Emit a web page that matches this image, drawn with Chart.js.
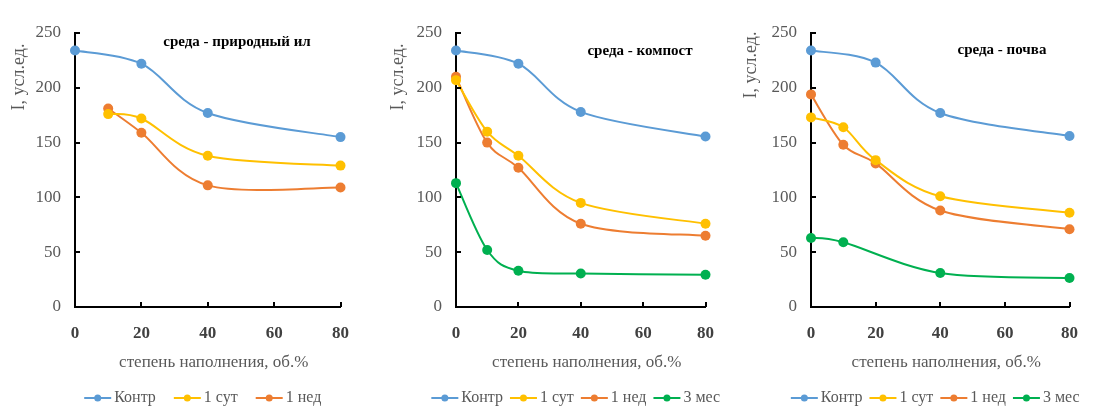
<!DOCTYPE html>
<html><head><meta charset="utf-8">
<script src="https://cdn.jsdelivr.net/npm/chart.js@4.4.1/dist/chart.umd.min.js"></script>
<style>
html,body{margin:0;padding:0;background:#fff;width:1094px;height:407px;overflow:hidden}
canvas{position:absolute;top:0}
</style></head>
<body>
<canvas id="c1" width="365" height="407" style="left:0px"></canvas>
<canvas id="c2" width="365" height="407" style="left:365px"></canvas>
<canvas id="c3" width="364" height="407" style="left:730px"></canvas>
<script>
// ---- data ----
const seriesNames = ['Контр', '1 сут', '1 нед', '3 мес'];
const panelTitles = ['среда - природный ил', 'среда - компост', 'среда - почва'];
const xAxisTitle = 'степень наполнения, об.%';
const yAxisTitle = 'I, усл.ед.';
const xTicks = [0, 20, 40, 60, 80];
const yTicks = [0, 50, 100, 150, 200, 250];

// панель 1: природный ил
const ilKontrX = [0, 20, 40, 80];      const ilKontrY = [234, 222, 177, 155];
const ilSutX   = [10, 20, 40, 80];     const ilSutY   = [176, 172, 138, 129];
const ilNedX   = [10, 20, 40, 80];     const ilNedY   = [181, 159, 111, 109];

// панель 2: компост
const kmKontrX = [0, 20, 40, 80];      const kmKontrY = [234, 222, 178, 155.5];
const kmSutX   = [0, 10, 20, 40, 80];  const kmSutY   = [207, 160, 138, 95, 76];
const kmNedX   = [0, 10, 20, 40, 80];  const kmNedY   = [210, 150, 127, 76, 65];
const kmMesX   = [0, 10, 20, 40, 80];  const kmMesY   = [113, 52, 33, 30.5, 29.5];

// панель 3: почва
const pvKontrX = [0, 20, 40, 80];      const pvKontrY = [234, 223, 177, 156];
const pvSutX   = [0, 10, 20, 40, 80];  const pvSutY   = [173, 164, 134, 101, 86];
const pvNedX   = [0, 10, 20, 40, 80];  const pvNedY   = [194, 148, 131, 88, 71];
const pvMesX   = [0, 10, 40, 80];      const pvMesY   = [63, 59, 31, 26.5];

// ---- styling ----
const colors = ['#5B9BD5', '#FFC000', '#ED7D31', '#00B050'];
const FONT = '"Liberation Serif", "Times New Roman", serif';

function ds(idx, xs, ys) {
  return {
    label: seriesNames[idx],
    data: xs.map((x, i) => ({x: x, y: ys[i]})),
    borderColor: colors[idx],
    backgroundColor: colors[idx],
    borderWidth: 2,
    pointRadius: 5,
    pointHoverRadius: 5,
    pointBorderWidth: 0,
    tension: 0.33,
    clip: false
  };
}

// Office-style smoothing: control points P_i -/+ (P_{i+1} - P_{i-1}) / 6
const smoothPlugin = {
  id: 'officeSmooth',
  beforeDatasetsDraw(chart) {
    chart.data.datasets.forEach((d, di) => {
      const meta = chart.getDatasetMeta(di);
      const pts = meta.data;
      const n = pts.length;
      for (let i = 0; i < n; i++) {
        const p = pts[i];
        const prev = pts[Math.max(0, i - 1)];
        const next = pts[Math.min(n - 1, i + 1)];
        const dx = (next.x - prev.x) / 6, dy = (next.y - prev.y) / 6;
        p.cp1x = p.x - dx; p.cp1y = p.y - dy;
        p.cp2x = p.x + dx; p.cp2y = p.y + dy;
      }
      if (meta.dataset) meta.dataset._pointsUpdated = true;
    });
  }
};

function decorPlugin(L) {
  return {
    id: 'decor',
    afterDraw(chart) {
      const ctx = chart.ctx;
      const a = chart.chartArea;
      const xs = chart.scales.x, ys = chart.scales.y;
      ctx.save();
      // inward tick marks
      ctx.strokeStyle = '#000';
      ctx.lineWidth = 2;
      yTicks.forEach(v => {
        const py = Math.round(ys.getPixelForValue(v));
        ctx.beginPath(); ctx.moveTo(a.left, py); ctx.lineTo(a.left + 5, py); ctx.stroke();
      });
      xTicks.forEach(v => {
        const px = Math.round(xs.getPixelForValue(v));
        ctx.beginPath(); ctx.moveTo(px, a.bottom); ctx.lineTo(px, a.bottom - 5); ctx.stroke();
      });
      // panel title
      ctx.fillStyle = '#000';
      ctx.font = 'bold 15px ' + FONT;
      ctx.textAlign = 'center';
      ctx.textBaseline = 'middle';
      ctx.fillText(L.title, L.titleX, L.titleY);
      // x axis title
      ctx.fillStyle = '#595959';
      ctx.font = '17px ' + FONT;
      ctx.fillText(xAxisTitle, (a.left + a.right) / 2 + 6, 363);
      // y axis title
      ctx.save();
      ctx.translate(a.left - L.yTitleDX, L.yTitleY);
      ctx.rotate(-Math.PI / 2);
      ctx.font = '18px ' + FONT;
      ctx.fillText(yAxisTitle, 0, 0);
      ctx.restore();
      // legend
      ctx.font = '16px ' + FONT;
      const items = chart.data.datasets.map(d => ({label: d.label, color: d.borderColor}));
      const lineLen = 27, textGap = 3;
      const widths = items.map(it => lineLen + textGap + ctx.measureText(it.label).width);
      const total = widths.reduce((s, w) => s + w, 0) + L.legendGap * (items.length - 1);
      let x = (a.left + a.right) / 2 - 5 - total / 2;
      const ly = 398;
      items.forEach((it, i) => {
        ctx.strokeStyle = it.color;
        ctx.lineWidth = 2;
        ctx.beginPath(); ctx.moveTo(x, ly); ctx.lineTo(x + lineLen, ly); ctx.stroke();
        ctx.fillStyle = it.color;
        ctx.beginPath(); ctx.arc(x + lineLen / 2, ly, 3.5, 0, Math.PI * 2); ctx.fill();
        ctx.fillStyle = '#595959';
        ctx.textAlign = 'left';
        ctx.fillText(it.label, x + lineLen + textGap, ly);
        x += widths[i] + L.legendGap;
      });
      ctx.restore();
    }
  };
}

function makeChart(id, datasets, L) {
  new Chart(document.getElementById(id), {
    type: 'line',
    data: {datasets: datasets},
    options: {
      responsive: false,
      animation: false,
      devicePixelRatio: 1,
      layout: {padding: {left: 0, right: L.padRight, top: 33, bottom: 0}},
      plugins: {legend: {display: false}, tooltip: {enabled: false}, title: {display: false}},
      scales: {
        x: {
          type: 'linear', min: 0, max: 80,
          afterBuildTicks: s => { s.ticks = xTicks.map(v => ({value: v})); },
          afterFit: s => { s.height = 100; },
          grid: {display: false, drawTicks: false},
          border: {display: true, color: '#000', width: 2},
          ticks: {padding: 16, color: '#404040', font: {family: FONT, size: 17, weight: 'bold'}, maxRotation: 0}
        },
        y: {
          type: 'linear', min: 0, max: 250,
          afterBuildTicks: s => { s.ticks = yTicks.map(v => ({value: v})); },
          afterFit: s => { s.width = L.yWidth; },
          grid: {display: false, drawTicks: false},
          border: {display: true, color: '#000', width: 2},
          ticks: {padding: 14, color: '#595959', font: {family: FONT, size: 17}}
        }
      }
    },
    plugins: [smoothPlugin, decorPlugin(L)]
  });
}

makeChart('c1', [
  ds(0, ilKontrX, ilKontrY), ds(1, ilSutX, ilSutY), ds(2, ilNedX, ilNedY)
], {yWidth: 75, padRight: 22, title: panelTitles[0], titleX: 237, titleY: 42, yTitleDX: 56, yTitleY: 77, legendGap: 18});

makeChart('c2', [
  ds(0, kmKontrX, kmKontrY), ds(1, kmSutX, kmSutY), ds(2, kmNedX, kmNedY), ds(3, kmMesX, kmMesY)
], {yWidth: 91, padRight: 16, title: panelTitles[1], titleX: 275, titleY: 51, yTitleDX: 58, yTitleY: 77, legendGap: 7});

makeChart('c3', [
  ds(0, pvKontrX, pvKontrY), ds(1, pvSutX, pvSutY), ds(2, pvNedX, pvNedY), ds(3, pvMesX, pvMesY)
], {yWidth: 81, padRight: 12, title: panelTitles[2], titleX: 272, titleY: 50, yTitleDX: 60, yTitleY: 65, legendGap: 7});
</script>
</body></html>
